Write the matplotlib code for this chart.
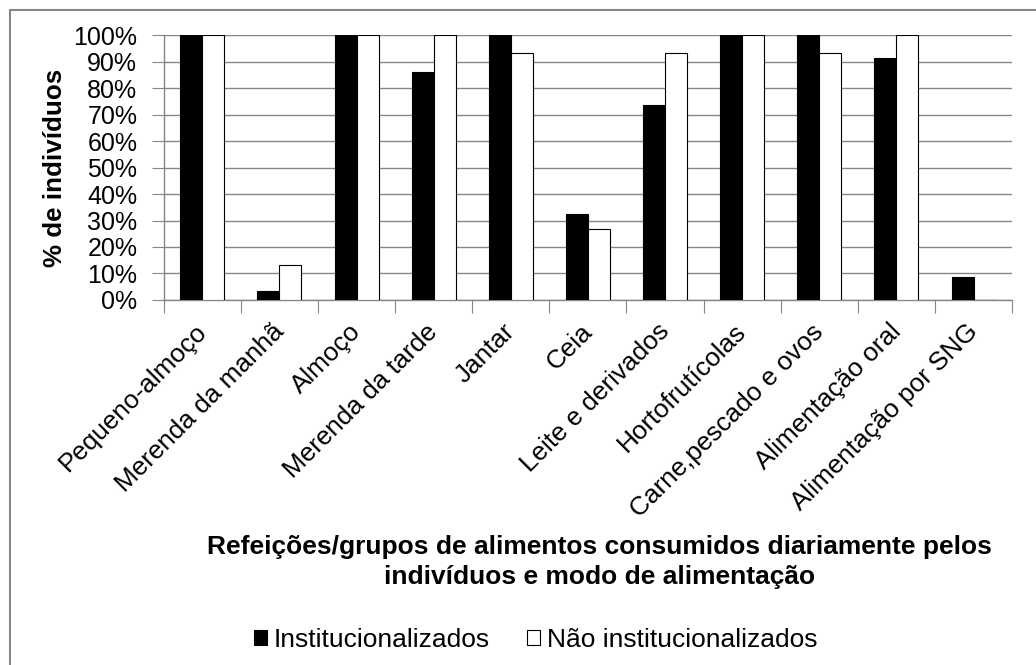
import numpy as np
import matplotlib.pyplot as plt
from matplotlib.patches import Rectangle
from matplotlib.ticker import FuncFormatter
from matplotlib.transforms import ScaledTranslation

categories = ["Pequeno-almoço", "Merenda da manhã", "Almoço", "Merenda da tarde",
              "Jantar", "Ceia", "Leite e derivados", "Hortofrutícolas",
              "Carne,pescado e ovos", "Alimentação oral", "Alimentação por SNG"]
institucionalizados = [100, 3.3, 100, 86, 100, 32.5, 73.7, 100, 100, 91.3, 8.5]
nao_institucionalizados = [100, 13.3, 100, 100, 93.3, 26.7, 93.3, 100, 93.3, 100, 0]

plt.rcParams["font.family"] = ["Liberation Sans", "DejaVu Sans"]

fig = plt.figure(figsize=(10.36, 6.65), dpi=100)
ax = fig.add_axes([0.158, 0.549, 0.819, 0.398])

# chart area border (only left/top visible in the original crop)
fig.patches.append(Rectangle((10 / 1036, -0.1), 1.2, 1 - 10 / 665 + 0.1,
                             transform=fig.transFigure, fill=False,
                             edgecolor="#868686", linewidth=1.5))

x = np.arange(len(categories))
w = 0.285
ax.bar(x - w / 2, institucionalizados, w, color="black", edgecolor="black",
       linewidth=0.8, zorder=3, label="Institucionalizados")
ax.bar(x + w / 2, nao_institucionalizados, w, color="white", edgecolor="black",
       linewidth=0.8, zorder=3, label="Não institucionalizados")

ax.set_xlim(-0.5, len(categories) - 0.5)
ax.set_ylim(0, 100)
ax.set_yticks(np.arange(0, 101, 10))
ax.yaxis.set_major_formatter(FuncFormatter(lambda v, p: f"{v:.0f}%"))
ax.tick_params(axis="y", labelsize=18, length=9, color="#868686", pad=10)
ax.grid(axis="y", color="#868686", linewidth=1, zorder=0)

# category ticks at boundaries, labels at centres
ax.set_xticks(np.arange(-0.5, len(categories), 1))
ax.set_xticklabels([])
ax.tick_params(axis="x", which="major", length=9, color="#868686")
ax.set_xticks(x, minor=True)
ax.set_xticklabels(categories, minor=True, rotation=45, ha="right",
                   va="top", rotation_mode="anchor", fontsize=18.8)
ax.tick_params(axis="x", which="minor", length=0, pad=14)
shift = ScaledTranslation(-8 / 100, 0, fig.dpi_scale_trans)
for lbl in ax.get_xticklabels(minor=True):
    lbl.set_transform(lbl.get_transform() + shift)

for s in ["top", "right"]:
    ax.spines[s].set_visible(False)
for s in ["left", "bottom"]:
    ax.spines[s].set_color("#868686")
    ax.spines[s].set_linewidth(1)

ax.set_ylabel("% de indivíduos", fontsize=18.7, fontweight="bold")
ax.yaxis.set_label_coords(-0.114, 0.5)

fig.text(0.579, 0.155, "Refeições/grupos de alimentos consumidos diariamente pelos\n"
         "indivíduos e modo de alimentação", ha="center", va="center",
         fontsize=19, fontweight="bold", linespacing=1.3)

fig.legend(loc="center", bbox_to_anchor=(0.517, 0.038), ncol=2, frameon=False,
           handlelength=0.5, handleheight=0.5, handletextpad=0.25,
           columnspacing=1.4, fontsize=19)

fig.savefig("out.png", dpi=100)
